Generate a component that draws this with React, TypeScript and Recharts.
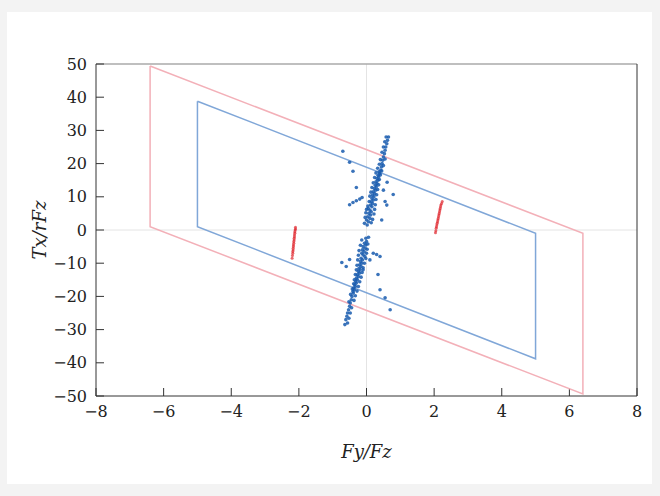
import { ScatterChart, Scatter, XAxis, YAxis, ReferenceLine } from 'recharts'

type Pt = { x: number; y: number }
const toPts = (arr: number[][]): Pt[] => arr.map(([x, y]) => ({ x, y }))

const xTicks = [-8, -6, -4, -2, 0, 2, 4, 6, 8]
const yTicks = [-50, -40, -30, -20, -10, 0, 10, 20, 30, 40, 50]

// outer (red) and inner (blue) limit frames, closed
const redFrame = [[-6.4, 49.4], [6.4, -1], [6.4, -49.4], [-6.4, 1], [-6.4, 49.4]]
const blueFrame = [[-5, 38.8], [5, -1], [5, -38.8], [-5, 1], [-5, 38.8]]

const blueUpper = [
  [0.02, 1.5], [0.06, 2.5], [0.0, 3], [0.1, 3.5], [0.04, 4], [0.12, 4.5], [0.07, 5], [0.14, 5.5],
  [0.1, 6], [0.05, 6.5], [0.16, 7], [0.12, 7.5], [0.18, 8], [0.14, 8.5], [0.2, 9], [0.16, 9.5],
  [0.22, 10], [0.18, 10.5], [0.24, 11], [0.2, 11.5], [0.27, 12], [0.23, 12.5], [0.29, 13], [0.26, 13.5],
  [0.31, 14], [0.28, 14.5], [0.34, 15], [0.31, 15.5], [0.36, 16], [0.34, 16.5], [0.39, 17], [0.37, 17.5],
  [0.42, 18], [0.44, 19], [0.46, 20], [0.48, 21], [0.5, 22], [0.53, 23], [0.55, 24], [0.57, 25],
  [0.6, 26], [0.62, 27], [0.65, 28],
]
const blueUpperBand = [
  [-0.06, 2], [0.14, 2.2], [-0.04, 3.8], [0.18, 3.2], [-0.02, 5.2], [0.22, 4.8], [0.0, 6.2], [0.24, 6.2],
  [0.04, 7.2], [0.26, 7.6], [0.08, 8.6], [0.28, 9.2], [0.1, 10.2], [0.3, 10.6], [0.13, 11.4], [0.33, 12.2],
  [0.16, 12.8], [0.36, 13.6], [0.2, 14.2], [0.38, 15.2], [0.24, 15.8], [0.41, 16.6], [0.28, 17.2],
  [0.45, 17.8], [0.33, 18.6], [0.38, 19.8], [0.5, 19.4], [0.41, 21.2], [0.55, 21.4], [0.46, 23.4],
  [0.5, 25], [0.54, 26.6], [0.58, 28],
]
const blueUpperScatter = [
  [-0.7, 23.7], [-0.5, 20.4], [-0.4, 17.7], [-0.3, 12.8], [-0.4, 8.3], [-0.3, 8.8], [-0.2, 9.3],
  [-0.13, 9.8], [-0.5, 7.6], [0.79, 10.7], [0.55, 8.6], [0.61, 14.4], [0.5, 12], [0.45, 3], [0.6, 7.5],
]
const blueLower = [
  [-0.02, -2.5], [0.0, -3.5], [-0.06, -4], [-0.02, -4.5], [-0.1, -5], [-0.04, -5.5], [-0.12, -6],
  [-0.07, -6.5], [-0.14, -7], [-0.1, -7.5], [-0.05, -8], [-0.16, -8.5], [-0.12, -9], [-0.18, -9.5],
  [-0.14, -10], [-0.2, -10.5], [-0.16, -11], [-0.22, -11.5], [-0.19, -12], [-0.24, -12.5], [-0.21, -13],
  [-0.27, -13.5], [-0.24, -14], [-0.3, -14.5], [-0.27, -15], [-0.32, -15.5], [-0.3, -16], [-0.35, -16.5],
  [-0.33, -17], [-0.38, -17.5], [-0.36, -18], [-0.4, -18.5], [-0.39, -19], [-0.43, -20], [-0.45, -21],
  [-0.48, -22], [-0.5, -23], [-0.53, -24], [-0.56, -25], [-0.58, -26], [-0.61, -27], [-0.64, -28.5],
]
const blueLowerBand = [
  [0.06, -2.2], [-0.14, -3], [0.04, -4.2], [-0.18, -4.6], [0.02, -5.8], [-0.22, -6.2], [0.0, -7],
  [-0.24, -7.6], [-0.02, -8.6], [-0.26, -9], [-0.06, -10], [-0.28, -10.6], [-0.1, -11.4], [-0.3, -12],
  [-0.13, -12.8], [-0.33, -13.4], [-0.16, -14.2], [-0.36, -15], [-0.2, -15.6], [-0.38, -16.2],
  [-0.24, -17], [-0.42, -17.8], [-0.28, -18.4], [-0.33, -19.8], [-0.47, -19.4], [-0.37, -21.2],
  [-0.52, -21.6], [-0.44, -23.4], [-0.48, -25], [-0.52, -26.6], [-0.56, -28],
]
const blueLowerScatter = [
  [0.4, -8], [0.3, -7.4], [0.2, -7], [-0.73, -9.8], [-0.5, -8.9], [-0.6, -11], [0.34, -13.4],
  [0.4, -18], [0.55, -20.4], [0.7, -24], [-0.1, -12], [0.1, -9],
]
const redLeft = [
  [-2.1, 0.8], [-2.1, 0.3], [-2.11, 0], [-2.12, -0.5], [-2.12, -1], [-2.13, -1.5], [-2.13, -2],
  [-2.14, -2.5], [-2.14, -3], [-2.15, -3.5], [-2.15, -4], [-2.16, -4.5], [-2.16, -5], [-2.17, -5.5],
  [-2.17, -6], [-2.18, -6.5], [-2.18, -7], [-2.19, -7.7], [-2.2, -8.5],
]
const redRight = [
  [2.04, -0.8], [2.05, -0.2], [2.06, 0.5], [2.07, 1], [2.08, 1.5], [2.09, 2], [2.1, 2.5], [2.11, 3],
  [2.12, 3.5], [2.13, 4], [2.14, 4.5], [2.15, 5], [2.16, 5.5], [2.17, 6], [2.18, 6.5], [2.19, 7],
  [2.2, 7.5], [2.22, 8], [2.24, 8.6],
]

const FONT = '"DejaVu Serif", serif'
const minus = (v: number) => String(v).replace('-', '\u2212')

const NoDot = () => <g />
const blueDot = (p: any) => <circle cx={p.cx} cy={p.cy} r={1.8} fill="#175aae" fillOpacity={0.85} />
const redDot = (p: any) => <circle cx={p.cx} cy={p.cy} r={1.5} fill="#e0262e" fillOpacity={0.7} />

export default function App() {
  const tickStyle = { fontFamily: FONT, fontSize: 16, fill: '#222' }
  return (
    <div style={{ position: 'absolute', left: 0, top: 0, width: 660, height: 496, background: '#f3f3f3' }}>
      <div style={{ position: 'absolute', left: 7, top: 12, width: 645, height: 472, background: '#fff' }} />
      <div style={{ position: 'absolute', left: 0, top: 0 }}>
        <ScatterChart width={660} height={496} margin={{ top: 64, right: 23, bottom: 36, left: 36 }}>
          <XAxis
            type="number"
            dataKey="x"
            domain={[-8, 8]}
            ticks={xTicks}
            allowDataOverflow
            tickFormatter={minus}
            tick={tickStyle}
            tickSize={-8}
            tickMargin={18}
            height={64}
            axisLine={{ stroke: '#333' }}
            tickLine={{ stroke: '#333' }}
            label={{
              content: (p: any) => {
                const vb = p.viewBox
                return (
                  <text x={vb.x + vb.width / 2} y={vb.y + 62} textAnchor="middle" fontFamily={FONT} fontStyle="italic" fontSize={18} fill="#222">
                    Fy/Fz
                  </text>
                )
              },
            }}
          />
          <YAxis
            type="number"
            dataKey="y"
            domain={[-50, 50]}
            ticks={yTicks}
            allowDataOverflow
            tickFormatter={minus}
            tick={tickStyle}
            tickSize={-8}
            tickMargin={17}
            width={60}
            axisLine={{ stroke: '#333' }}
            tickLine={{ stroke: '#333' }}
            label={{
              content: (p: any) => {
                const vb = p.viewBox
                const cx = 46
                const cy = vb.y + vb.height / 2
                return (
                  <text x={cx} y={cy} transform={`rotate(-90 ${cx} ${cy})`} textAnchor="middle" fontFamily={FONT} fontStyle="italic" fontSize={18} fill="#222">
                    Tx/rFz
                  </text>
                )
              },
            }}
          />
          <ReferenceLine x={0} stroke="#e4e4e4" strokeWidth={1} />
          <ReferenceLine y={0} stroke="#e4e4e4" strokeWidth={1} />
          <ReferenceLine y={50} stroke="#aaa" strokeWidth={1.5} />
          <ReferenceLine x={8} stroke="#333" strokeWidth={1} />
          <Scatter data={toPts(redFrame)} line={{ stroke: '#f3b0b8', strokeWidth: 1.5 }} shape={NoDot} isAnimationActive={false} />
          <Scatter data={toPts(blueFrame)} line={{ stroke: '#80a7d8', strokeWidth: 1.5 }} shape={NoDot} isAnimationActive={false} />
          <Scatter data={toPts(blueUpper)} shape={blueDot} isAnimationActive={false} />
          <Scatter data={toPts(blueUpperBand)} shape={blueDot} isAnimationActive={false} />
          <Scatter data={toPts(blueUpperScatter)} shape={blueDot} isAnimationActive={false} />
          <Scatter data={toPts(blueLower)} shape={blueDot} isAnimationActive={false} />
          <Scatter data={toPts(blueLowerBand)} shape={blueDot} isAnimationActive={false} />
          <Scatter data={toPts(blueLowerScatter)} shape={blueDot} isAnimationActive={false} />
          <Scatter data={toPts(redLeft)} shape={redDot} isAnimationActive={false} />
          <Scatter data={toPts(redRight)} shape={redDot} isAnimationActive={false} />
        </ScatterChart>
      </div>
    </div>
  )
}
